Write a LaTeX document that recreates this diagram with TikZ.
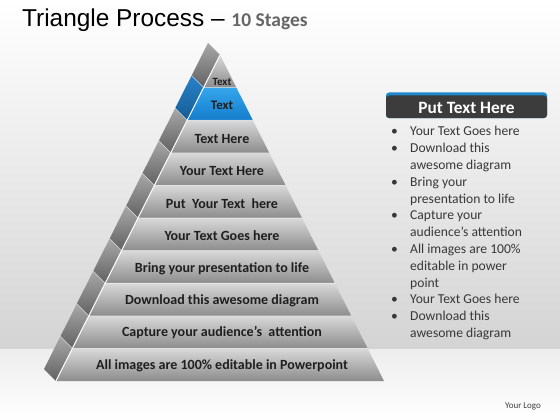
\documentclass[tikz,border=0pt]{standalone}
\usepackage{fontspec}
\setmainfont{Carlito}
\newfontfamily\arialfont{Liberation Sans}
\usetikzlibrary{positioning}

\definecolor{bandtop}{RGB}{52,166,236}
\definecolor{bandbot}{RGB}{20,124,204}
\definecolor{sidetop}{RGB}{40,130,200}
\definecolor{sidebot}{RGB}{22,92,150}
\definecolor{headbar}{RGB}{60,60,60}
\definecolor{headblue}{RGB}{30,136,200}

\tikzset{
  bandtext/.style={anchor=base,inner sep=0pt,text=black!88,font=\bfseries\fontsize{14}{16}\selectfont},
  listtext/.style={anchor=base west,inner sep=0pt,text=black!78,align=left,
    font=\fontsize{13.6}{16.8}\selectfont}
}

\begin{document}
\begin{tikzpicture}[x=1pt,y=-1pt]  % 以像素为单位, y 向下

    \useasboundingbox (0,0) rectangle (560,420);

    % 绘制背景
    \shade[top color=white,bottom color=black!17] (0,0) rectangle (560,349);
    \shade[top color=black!7,bottom color=white] (0,349) rectangle (560,420);

    % 标题
    \node[anchor=base west,inner sep=0pt] (title) at (22,27)
      {\arialfont\fontsize{24.4}{28}\selectfont Triangle Process \textendash{}
       {\fontspec{Carlito}\bfseries\fontsize{19.5}{22}\selectfont\color{black!60}10 Stages}};

    % 绘制金字塔的灰色层
    \foreach \k in {1,3,4,5,6,7,8,9,10} {
      \pgfmathsetmacro\t{55+32.6*(\k-1)}
      \pgfmathsetmacro\b{55+32.6*\k}
      \pgfmathsetmacro\lt{220-16.4*(\k-1)}
      \pgfmathsetmacro\rt{220+16.4*(\k-1)}
      \pgfmathsetmacro\lb{220-16.4*\k}
      \pgfmathsetmacro\rb{220+16.4*\k}
      \shade[top color=black!15,bottom color=black!45] (\lt,\t) -- (\rt,\t) -- (\rb,\b) -- (\lb,\b) -- cycle;
      \shade[top color=black!34,bottom color=black!62] (\lt,\t) -- (\lb,\b) -- (\lb-12,\b-12) -- (\lt-12,\t-12) -- cycle;
    }

    % 蓝色的第二层
    \shade[top color=bandtop,bottom color=bandbot] (203.6,87.6) -- (236.4,87.6) -- (252.8,120.2) -- (187.2,120.2) -- cycle;
    \shade[top color=sidetop,bottom color=sidebot] (203.6,87.6) -- (187.2,120.2) -- (175.2,108.2) -- (191.6,75.6) -- cycle;

    % 层间的亮线
    \foreach \k in {1,...,9} {
      \pgfmathsetmacro\b{55+32.6*\k}
      \pgfmathsetmacro\lb{220-16.4*\k}
      \pgfmathsetmacro\rb{220+16.4*\k}
      \draw[white,opacity=0.6,line width=0.6pt] (\lb-12,\b-12) -- (\lb,\b) -- (\rb,\b);
    }
    \draw[white,line width=1pt] (220,55) -- (56,381);

    % 各层文字
    \node[bandtext,font=\bfseries\fontsize{11}{13}\selectfont] (t1) at (222,85.5) {Text};
    \node[bandtext,font=\bfseries\fontsize{13}{15}\selectfont] (t2) at (222,110) {Text};
    \node[bandtext] (t3) at (222,143.5) {Text Here};
    \node[bandtext] (t4) at (222,175.5) {Your Text Here};
    \node[bandtext] (t5) at (222,208.5) {Put\ \ Your Text\ \ here};
    \node[bandtext] (t6) at (222,240.5) {Your Text Goes here};
    \node[bandtext] (t7) at (222,272.5) {Bring your presentation to life};
    \node[bandtext] (t8) at (222,304.5) {Download this awesome diagram};
    \node[bandtext] (t9) at (222,336.5) {Capture your audience’s\ \ attention};
    \node[bandtext] (t10) at (222,369.5) {All images are 100\% editable in Powerpoint};

    % 右侧标题框
    \fill[headblue,rounded corners=3pt] (386,92.5) rectangle (547,118);
    \fill[headbar,rounded corners=3pt] (386,95.5) rectangle (547,118);
    \node[inner sep=0pt,text=white,font=\bfseries\fontsize{17.3}{20}\selectfont] (header) at (466.5,107.5) {Put Text Here};

    % 右侧列表 (基线为最后一行)
    \node[listtext] (list) at (391,337.4) {%
      \makebox[19pt][l]{\textbullet}Your Text Goes here\\
      \makebox[19pt][l]{\textbullet}Download this\\
      \hspace*{19pt}awesome diagram\\
      \makebox[19pt][l]{\textbullet}Bring your\\
      \hspace*{19pt}presentation to life\\
      \makebox[19pt][l]{\textbullet}Capture your\\
      \hspace*{19pt}audience’s attention\\
      \makebox[19pt][l]{\textbullet}All images are 100\%\\
      \hspace*{19pt}editable in power\\
      \hspace*{19pt}point\\
      \makebox[19pt][l]{\textbullet}Your Text Goes here\\
      \makebox[19pt][l]{\textbullet}Download this\\
      \hspace*{19pt}awesome diagram};

    % 标志
    \node[inner sep=0pt,text=black!75,font=\fontsize{9}{10}\selectfont] (logo) at (523,406) {Your Logo};

\end{tikzpicture}
\end{document}
